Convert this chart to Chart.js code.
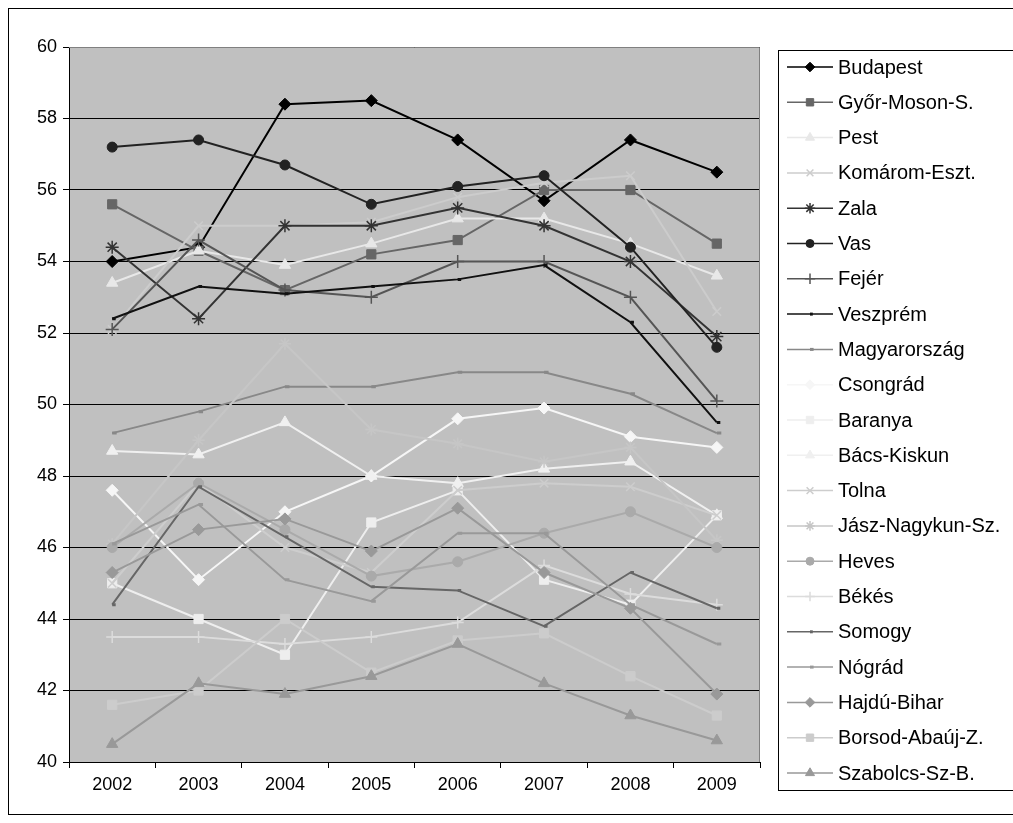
<!DOCTYPE html>
<html>
<head>
<meta charset="utf-8">
<script src="https://cdn.jsdelivr.net/npm/chart.js@4"></script>
<style>
  html, body { margin: 0; padding: 0; background: #fff; }
  #wrap { width: 1013px; height: 823px; position: relative; }
</style>
</head>
<body>
<div id="wrap"><canvas id="myChart"></canvas></div>
<script>
const years = ['2002', '2003', '2004', '2005', '2006', '2007', '2008', '2009'];

const budapest = [54.0, 54.4, 58.4, 58.5, 57.4, 55.7, 57.4, 56.5];
const gyor     = [55.6, 54.3, 53.2, 54.2, 54.6, 56.0, 56.0, 54.5];
const pest     = [53.4, 54.3, 53.9, 54.5, 55.2, 55.2, 54.5, 53.6];
const komarom  = [52.1, 55.0, 55.0, 55.1, 55.8, 56.2, 56.4, 52.6];
const zala     = [54.4, 52.4, 55.0, 55.0, 55.5, 55.0, 54.0, 51.9];
const vas      = [57.2, 57.4, 56.7, 55.6, 56.1, 56.4, 54.4, 51.6];
const fejer    = [52.1, 54.6, 53.2, 53.0, 54.0, 54.0, 53.0, 50.1];
const veszprem = [52.4, 53.3, 53.1, 53.3, 53.5, 53.9, 52.3, 49.5];
const magyar   = [49.2, 49.8, 50.5, 50.5, 50.9, 50.9, 50.3, 49.2];
const csongrad = [47.6, 45.1, 47.0, 48.0, 49.6, 49.9, 49.1, 48.8];
const baranya  = [45.0, 44.0, 43.0, 46.7, 47.6, 45.1, 44.4, 46.9];
const bacs     = [48.7, 48.6, 49.5, 48.0, 47.8, 48.2, 48.4, 46.9];
const tolna    = [45.0, 47.8, 46.0, 45.3, 47.6, 47.8, 47.7, 46.9];
const jasz     = [46.1, 49.0, 51.7, 49.3, 48.9, 48.4, 48.8, 46.2];
const heves    = [46.0, 47.8, 46.5, 45.2, 45.6, 46.4, 47.0, 46.0];
const bekes    = [43.5, 43.5, 43.3, 43.5, 43.9, 45.5, 44.7, 44.4];
const somogy   = [44.4, 47.7, 46.3, 44.9, 44.8, 43.8, 45.3, 44.3];
const nograd   = [46.1, 47.2, 45.1, 44.5, 46.4, 46.4, 44.4, 43.3];
const hajdu    = [45.3, 46.5, 46.8, 45.9, 47.1, 45.3, 44.3, 41.9];
const borsod   = [41.6, 42.0, 44.0, 42.5, 43.4, 43.6, 42.4, 41.3];
const szabolcs = [40.5, 42.2, 41.9, 42.4, 43.3, 42.2, 41.3, 40.6];

const yTicks = [40, 42, 44, 46, 48, 50, 52, 54, 56, 58, 60];

// name, data, colour, marker, radius
const series = [
  ['Budapest', budapest, '#000000', 'rectRot', 6],
  ['Győr-Moson-S.', gyor, '#666666', 'rect', 6.5],
  ['Pest', pest, '#e8e8e8', 'triangle', 6.5],
  ['Komárom-Eszt.', komarom, '#cccccc', 'crossRot', 6],
  ['Zala', zala, '#333333', 'star', 6.5],
  ['Vas', vas, '#222222', 'circle', 5],
  ['Fejér', fejer, '#555555', 'cross', 6.5],
  ['Veszprém', veszprem, '#111111', 'dash', 3.5],
  ['Magyarország', magyar, '#888888', 'dash', 4.5],
  ['Csongrád', csongrad, '#f6f6f6', 'rectRot', 6],
  ['Baranya', baranya, '#eeeeee', 'rect', 6.5],
  ['Bács-Kiskun', bacs, '#f0f0f0', 'triangle', 6.5],
  ['Tolna', tolna, '#cdcdcd', 'crossRot', 6],
  ['Jász-Nagykun-Sz.', jasz, '#c6c6c6', 'star', 6],
  ['Heves', heves, '#aaaaaa', 'circle', 5],
  ['Békés', bekes, '#dcdcdc', 'cross', 6],
  ['Somogy', somogy, '#666666', 'dash', 3.5],
  ['Nógrád', nograd, '#999999', 'dash', 4.5],
  ['Hajdú-Bihar', hajdu, '#999999', 'rectRot', 6],
  ['Borsod-Abaúj-Z.', borsod, '#cccccc', 'rect', 6.5],
  ['Szabolcs-Sz-B.', szabolcs, '#999999', 'triangle', 6.5]
];

const FONT = '"Liberation Sans", Arial, sans-serif';
const PLOT = { left: 69, top: 47, right: 760, bottom: 762 };

function markerWidth(style) {
  if (style === 'dash') return 3;
  if (style === 'cross' || style === 'crossRot' || style === 'star') return 1.5;
  return 1;
}

const datasets = series.map(function (s, i) {
  return {
    label: s[0],
    data: s[1],
    borderColor: s[2],
    backgroundColor: s[2],
    pointStyle: s[3],
    pointRadius: s[4],
    pointHoverRadius: s[4],
    pointBackgroundColor: s[2],
    pointBorderColor: s[2],
    pointBorderWidth: markerWidth(s[3]),
    borderWidth: 2,
    tension: 0,
    fill: false,
    order: series.length - i
  };
});

const framePlugin = {
  id: 'frame',
  beforeDraw(chart) {
    const ctx = chart.ctx;
    const a = chart.chartArea;
    ctx.save();
    ctx.fillStyle = '#ffffff';
    ctx.fillRect(0, 0, chart.width, chart.height);
    ctx.fillStyle = '#c0c0c0';
    ctx.fillRect(a.left, a.top, a.right - a.left, a.bottom - a.top);
    ctx.strokeStyle = '#000000';
    ctx.lineWidth = 1;
    ctx.strokeRect(8.5, 8.5, 1030, 806);
    ctx.restore();
  },
  afterDatasetsDraw(chart) {
    const ctx = chart.ctx;
    const a = chart.chartArea;
    ctx.save();
    ctx.strokeStyle = '#808080';
    ctx.lineWidth = 1;
    ctx.beginPath();
    ctx.moveTo(a.left, a.top + 0.5);
    ctx.lineTo(a.right - 0.5, a.top + 0.5);
    ctx.lineTo(a.right - 0.5, a.bottom);
    ctx.stroke();
    ctx.restore();
  },
  afterDraw(chart) {
    // legend: line + marker sample, like the spreadsheet legend
    const ctx = chart.ctx;
    const boxLeft = 778, boxTop = 50, boxBottom = 790;
    const firstY = 67, step = 35.3;
    ctx.save();
    ctx.fillStyle = '#ffffff';
    ctx.fillRect(boxLeft, boxTop, 1013 - boxLeft, boxBottom - boxTop);
    ctx.strokeStyle = '#000000';
    ctx.lineWidth = 1;
    ctx.strokeRect(boxLeft + 0.5, boxTop + 0.5, 300, boxBottom - boxTop);
    chart.data.datasets.forEach(function (ds, i) {
      const y = firstY + i * step;
      ctx.strokeStyle = ds.borderColor;
      ctx.lineWidth = 1.5;
      ctx.beginPath();
      ctx.moveTo(787, y);
      ctx.lineTo(833, y);
      ctx.stroke();
      ctx.fillStyle = ds.pointBackgroundColor;
      ctx.strokeStyle = ds.pointBorderColor;
      ctx.lineWidth = ds.pointBorderWidth;
      Chart.helpers.drawPoint(ctx, {
        pointStyle: ds.pointStyle,
        radius: ds.pointRadius * 0.8,
        rotation: 0,
        borderWidth: ds.pointBorderWidth
      }, 810, y);
      ctx.fillStyle = '#000000';
      ctx.font = '20px ' + FONT;
      ctx.textBaseline = 'middle';
      ctx.textAlign = 'left';
      ctx.fillText(ds.label, 838, y + 1);
    });
    ctx.restore();
  }
};

new Chart(document.getElementById('myChart'), {
  type: 'line',
  data: { labels: years, datasets: datasets },
  plugins: [framePlugin],
  options: {
    responsive: true,
    maintainAspectRatio: false,
    animation: false,
    events: [],
    layout: { padding: { left: 0, top: PLOT.top, right: 1013 - PLOT.right, bottom: 0 } },
    plugins: {
      legend: { display: false },
      tooltip: { enabled: false }
    },
    scales: {
      x: {
        offset: true,
        afterFit(scale) { scale.height = 823 - PLOT.bottom; },
        grid: {
          offset: true,
          drawOnChartArea: false,
          drawTicks: true,
          tickLength: 6,
          color: '#000000'
        },
        border: { color: '#000000', width: 1 },
        ticks: {
          color: '#000000',
          padding: 6,
          font: { family: FONT, size: 18 }
        }
      },
      y: {
        min: 40,
        max: 60,
        afterFit(scale) { scale.width = PLOT.left; },
        afterBuildTicks(scale) { scale.ticks = yTicks.map(function (v) { return { value: v }; }); },
        grid: {
          color: '#000000',
          lineWidth: 1,
          drawTicks: true,
          tickLength: 6,
          tickColor: '#000000'
        },
        border: { color: '#000000', width: 1 },
        ticks: {
          color: '#000000',
          padding: 6,
          font: { family: FONT, size: 18 }
        }
      }
    }
  }
});
</script>
</body>
</html>
